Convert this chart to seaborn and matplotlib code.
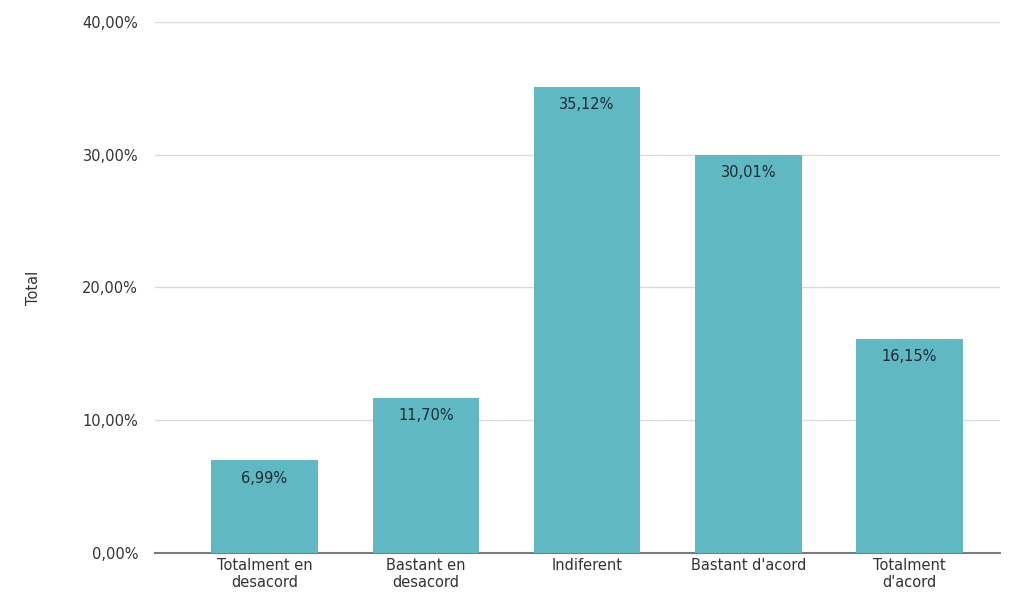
import seaborn as sns
import pandas as pd
import matplotlib.pyplot as plt
from matplotlib.ticker import FuncFormatter

# Values
categories = ["Totalment en\ndesacord", "Bastant en\ndesacord", "Indiferent",
              "Bastant d'acord", "Totalment\nd'acord"]
values = [6.99, 11.70, 35.12, 30.01, 16.15]

df = pd.DataFrame({"Resposta": categories, "Total": values})

sns.set_style("white")
plt.rcParams['font.family'] = ['DejaVu Sans']

fig = plt.figure(figsize=(10.12, 6.07), dpi=100)
ax = fig.add_axes([0.153, 0.089, 0.835, 0.875])

sns.barplot(x="Resposta", y="Total", data=df, ax=ax, color="#5fb8c2",
            width=0.66, saturation=1, linewidth=0, zorder=3)

# value labels inside the top of each bar
for i, v in enumerate(values):
    ax.text(i, v - 0.8, f"{v:.2f}%".replace(".", ","), ha="center", va="top",
            fontsize=10.5, color="#1d2b36", zorder=4)

ax.set_ylim(0, 40)
ax.set_xlim(-0.68, 4.56)
ax.set_yticks([0, 10, 20, 30, 40])
ax.yaxis.set_major_formatter(FuncFormatter(lambda y, _: f"{y:.2f}%".replace(".", ",")))
ax.grid(axis="y", color="#dcdcdc", lw=1, zorder=0)
ax.tick_params(axis="both", length=0, labelsize=10.5, colors="#333333")
ax.tick_params(axis="y", pad=12)

for s in ["top", "right", "left"]:
    ax.spines[s].set_visible(False)
ax.spines["bottom"].set_color("#7a7a7a")
ax.spines["bottom"].set_linewidth(1.5)

ax.set_xlabel("")
ax.set_ylabel("Total", fontsize=10.5, color="#333333", labelpad=30)

plt.savefig("out.png", dpi=100)
